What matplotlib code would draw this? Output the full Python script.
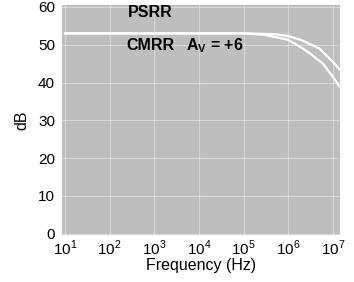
import numpy as np
import matplotlib.pyplot as plt

plt.rcParams['font.family'] = ['Liberation Sans', 'DejaVu Sans']
plt.rcParams['mathtext.fontset'] = 'custom'
plt.rcParams['mathtext.rm'] = 'Liberation Sans'
plt.rcParams['mathtext.bf'] = 'Liberation Sans:bold'

# curves (frequency in Hz, level in dB)
psrr_freq = [10, 1e3, 1e5, 5e5, 1e6, 2e6, 5e6, 1e7, 1.4e7]
psrr_db = [53, 53, 53, 52.8, 52.3, 51.2, 49, 45.5, 43.5]
cmrr_freq = [10, 1e3, 1e5, 3e5, 1e6, 2e6, 3e6, 6e6, 1e7, 1.4e7]
cmrr_db = [53, 53, 53, 52.6, 51.3, 49.2, 47.8, 45, 41.5, 39]

xticks = [1e1, 1e2, 1e3, 1e4, 1e5, 1e6, 1e7]
xtick_labels = ['$10^{1}$', '$10^{2}$', '$10^{3}$', '$10^{4}$',
                '$10^{5}$', '$10^{6}$', '$10^{7}$']
yticks = [0, 10, 20, 30, 40, 50, 60]

fig = plt.figure(figsize=(3.54, 2.82), dpi=100)
ax = fig.add_axes([0.175, 0.165, 0.785, 0.817])
ax.set_facecolor('#bebebe')

ax.set_xscale('log')
ax.set_xlim(10 ** 0.933, 10 ** 7.157)
ax.set_ylim(-0.5, 60.5)
ax.set_xticks(xticks)
ax.set_xticklabels(xtick_labels)
ax.minorticks_off()
ax.set_yticks(yticks)
ax.tick_params(length=0, labelsize=11)
ax.tick_params(axis='x', pad=2)
ax.tick_params(axis='y', pad=5)
for s in ax.spines.values():
    s.set_visible(False)
ax.grid(True, color='white', linewidth=0.8, alpha=0.4)

ax.plot(psrr_freq, psrr_db, color='white', linewidth=1.6)
ax.plot(cmrr_freq, cmrr_db, color='white', linewidth=1.6)

ax.text(10 ** 2.4, 58.5, 'PSRR', fontsize=11.5, fontweight='bold', va='center')
ax.text(10 ** 2.37, 49.8, 'CMRR', fontsize=11.5, fontweight='bold', va='center')
ax.text(10 ** 3.72, 49.8, r'A$_\mathbf{V}$ = +6', fontsize=11.5,
        fontweight='bold', va='center')

ax.set_xlabel('Frequency (Hz)', fontsize=11.5, labelpad=0)
ax.set_ylabel('dB', fontsize=11.5, labelpad=6)

fig.savefig('out.png', dpi=100)
